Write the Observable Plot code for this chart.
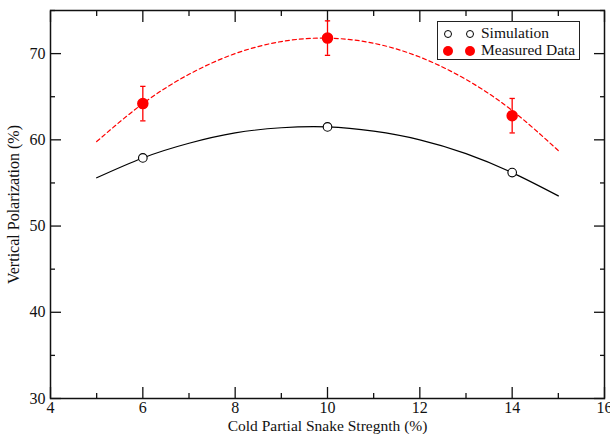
<!DOCTYPE html>
<html>
<head>
<meta charset="utf-8">
<script src="https://cdn.jsdelivr.net/npm/d3@7"></script>
<script src="https://cdn.jsdelivr.net/npm/@observablehq/plot@0.6"></script>
<style>
  html, body { margin: 0; padding: 0; background: #fff; }
  #wrap { position: relative; width: 610px; height: 434px; font-family: "Liberation Serif", "Times New Roman", serif; }
  #legend { position: absolute; left: 437px; top: 21px; width: 141px; height: 37px; border: 1.5px solid #222; background: #fff; font-size: 15.5px; color: #111; }
  .row { position: absolute; left: 0; height: 17px; line-height: 17px; white-space: nowrap; }
  .sym { position: absolute; width: 8px; height: 8px; border-radius: 50%; box-sizing: border-box; }
  .lbl { position: absolute; left: 43px; top: -1px; }
</style>
</head>
<body>
<div id="wrap">
  <div id="chart"></div>
  <div id="legend"></div>
</div>
<script>
// Tick values
const xTicksMajor = [4, 6, 8, 10, 12, 14, 16];
const xTicksMinor = [5, 7, 9, 11, 13, 15];
const yTicksMajor = [30, 40, 50, 60, 70];
const yTicksMinor = [35, 45, 55, 65, 75];

// Simulation points
const simX = [6, 10, 14];
const simY = [57.9, 61.5, 56.2];

// Measured data points with errors
const measX = [6, 10, 14];
const measY = [64.2, 71.8, 62.8];
const measErr = [2.0, 2.0, 2.0];

// Fit curves (at integer x)
const curveX = [5, 6, 7, 8, 9, 10, 11, 12, 13, 14, 15];
const simFitY = [55.6, 57.9, 59.6, 60.8, 61.4, 61.5, 61.0, 60.0, 58.4, 56.2, 53.5];
const measFitY = [59.8, 64.2, 67.6, 70.0, 71.4, 71.8, 71.2, 69.6, 67.0, 63.4, 58.75];

const legendItems = ["Simulation", "Measured Data"];

const sim = simX.map((x, i) => ({x, y: simY[i]}));
const meas = measX.map((x, i) => ({x, y: measY[i], lo: measY[i] - measErr[i], hi: measY[i] + measErr[i]}));
const simFit = curveX.map((x, i) => ({x, y: simFitY[i]}));
const measFit = curveX.map((x, i) => ({x, y: measFitY[i]}));

const capSymbol = {
  draw(ctx, size) {
    const w = Math.sqrt(size) / 2;
    ctx.moveTo(-w, 0);
    ctx.lineTo(w, 0);
  }
};

const chart = Plot.plot({
  width: 610,
  height: 434,
  marginLeft: 50,
  marginRight: 6,
  marginTop: 10,
  marginBottom: 36,
  style: { fontFamily: "Liberation Serif, Times New Roman, serif", fontSize: "16px", color: "#111", background: "#fff" },
  x: { domain: [4, 16] },
  y: { domain: [30, 75] },
  marks: [
    // inward ticks
    Plot.axisX({ anchor: "bottom", ticks: xTicksMajor, tickSize: -11, tickFormat: () => "", label: null, strokeWidth: 1.3 }),
    Plot.axisX({ anchor: "bottom", ticks: xTicksMinor, tickSize: -5, tickFormat: () => "", label: null, strokeWidth: 1.3 }),
    Plot.axisX({ anchor: "top", ticks: xTicksMajor, tickSize: -11, tickFormat: () => "", label: null, strokeWidth: 1.3 }),
    Plot.axisX({ anchor: "top", ticks: xTicksMinor, tickSize: -5, tickFormat: () => "", label: null, strokeWidth: 1.3 }),
    Plot.axisY({ anchor: "left", ticks: yTicksMajor, tickSize: -11, tickFormat: () => "", label: null, strokeWidth: 1.3 }),
    Plot.axisY({ anchor: "left", ticks: yTicksMinor, tickSize: -5, tickFormat: () => "", label: null, strokeWidth: 1.3 }),
    Plot.axisY({ anchor: "right", ticks: yTicksMajor, tickSize: -11, tickFormat: () => "", label: null, strokeWidth: 1.3 }),
    Plot.axisY({ anchor: "right", ticks: yTicksMinor, tickSize: -5, tickFormat: () => "", label: null, strokeWidth: 1.3 }),
    // tick labels
    Plot.axisX({ anchor: "bottom", ticks: xTicksMajor, tickSize: 0, tickPadding: 3, tickFormat: d3.format("d"), label: null, fontSize: 16 }),
    Plot.axisY({ anchor: "left", ticks: yTicksMajor, tickSize: 0, tickPadding: 5, tickFormat: d3.format("d"), label: null, fontSize: 16 }),
    // axis titles
    Plot.axisX({ anchor: "bottom", ticks: [], tickSize: 0, label: "Cold Partial Snake Stregnth (%)", labelAnchor: "center", labelOffset: 32, labelArrow: "none", fontSize: 15.5 }),
    Plot.axisY({ anchor: "left", ticks: [], tickSize: 0, label: "Vertical Polarization (%)", labelAnchor: "center", labelOffset: 43, labelArrow: "none", fontSize: 16 }),
    Plot.frame({ stroke: "#111", strokeWidth: 1.5 }),
    // curves
    Plot.line(simFit, { x: "x", y: "y", curve: "natural", stroke: "#000", strokeWidth: 1.2 }),
    Plot.line(measFit, { x: "x", y: "y", curve: "natural", stroke: "#ff0000", strokeWidth: 1.2, strokeDasharray: "4,3" }),
    // error bars
    Plot.ruleX(meas, { x: "x", y1: "lo", y2: "hi", stroke: "#ff0000", strokeWidth: 1.3 }),
    Plot.dot(meas, { x: "x", y: "lo", symbol: capSymbol, r: 3, stroke: "#ff0000", strokeWidth: 1.3 }),
    Plot.dot(meas, { x: "x", y: "hi", symbol: capSymbol, r: 3, stroke: "#ff0000", strokeWidth: 1.3 }),
    // points
    Plot.dot(sim, { x: "x", y: "y", r: 4.3, stroke: "#000", fill: "#fff", strokeWidth: 1.1 }),
    Plot.dot(meas, { x: "x", y: "y", r: 5, fill: "#ff0000", stroke: "#ff0000" })
  ]
});
document.getElementById("chart").appendChild(chart);

// Legend
const legend = document.getElementById("legend");
legendItems.forEach((name, i) => {
  const row = document.createElement("div");
  row.className = "row";
  row.style.top = (3 + i * 17) + "px";
  row.style.width = "140px";
  [6, 28].forEach(left => {
    const s = document.createElement("div");
    s.className = "sym";
    s.style.left = left + "px";
    s.style.top = "4.5px";
    if (i === 0) { s.style.border = "1.2px solid #000"; s.style.background = "#fff"; }
    else { s.style.background = "#ff0000"; s.style.width = "10px"; s.style.height = "10px"; s.style.left = (left - 1) + "px"; s.style.top = "3.5px"; }
    row.appendChild(s);
  });
  const t = document.createElement("span");
  t.className = "lbl";
  t.textContent = name;
  row.appendChild(t);
  legend.appendChild(row);
});
</script>
</body>
</html>
